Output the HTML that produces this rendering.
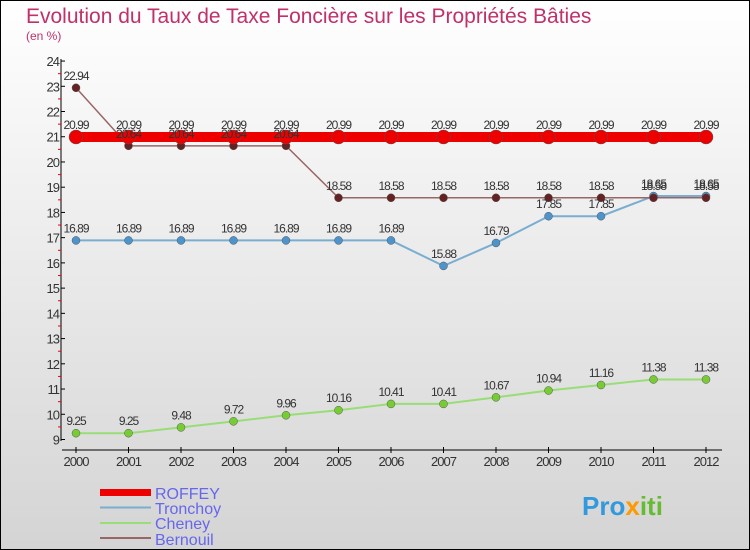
<!DOCTYPE html>
<html><head><meta charset="utf-8"><style>
body{margin:0}
#c{width:750px;height:550px;position:relative;overflow:hidden}
text{font-family:"Liberation Sans",sans-serif}
</style></head><body>
<div id="c">
<svg id="s" width="750" height="550" xmlns="http://www.w3.org/2000/svg">
<defs><linearGradient id="bg" x1="0" y1="0" x2="0" y2="1"><stop offset="0" stop-color="#ffffff"/><stop offset="1" stop-color="#d4d4d4"/></linearGradient></defs>
<rect x="0.5" y="0.5" width="749" height="549" fill="url(#bg)" stroke="#000"/>
<text x="26" y="23" font-size="21" fill="#c0306a">Evolution du Taux de Taxe Foncière sur les Propriétés Bâties</text>
<text x="26" y="40" font-size="12" fill="#c0306a">(en %)</text>
<g id="axes"></g><g id="series"></g><g id="labels"></g>
<g>
<rect x="100" y="489" width="51" height="7" fill="#ee0000"/>
<line x1="100" y1="507.5" x2="151" y2="507.5" stroke="#7aaed0" stroke-width="2"/>
<line x1="100" y1="523" x2="151" y2="523" stroke="#99dd77" stroke-width="2"/>
<line x1="100" y1="538" x2="151" y2="538" stroke="#996666" stroke-width="2"/>
<text x="155" y="499" font-size="16" fill="#6666ee">ROFFEY</text>
<text x="155" y="514" font-size="16" fill="#6666ee">Tronchoy</text>
<text x="155" y="529" font-size="16" fill="#6666ee">Cheney</text>
<text x="155" y="545" font-size="16" fill="#6666ee">Bernouil</text>
</g>
<text x="582" y="515" font-size="26" font-weight="bold" fill="#3399dd">Pro<tspan fill="#ff9900">x</tspan><tspan fill="#66bb33">iti</tspan></text>
</svg></div>
<script>
const years=[2000,2001,2002,2003,2004,2005,2006,2007,2008,2009,2010,2011,2012];
const roffey=[20.99,20.99,20.99,20.99,20.99,20.99,20.99,20.99,20.99,20.99,20.99,20.99,20.99];
const tronchoy=[16.89,16.89,16.89,16.89,16.89,16.89,16.89,15.88,16.79,17.85,17.85,18.65,18.65];
const cheney=[9.25,9.25,9.48,9.72,9.96,10.16,10.41,10.41,10.67,10.94,11.16,11.38,11.38];
const bernouil=[22.94,20.64,20.64,20.64,20.64,18.58,18.58,18.58,18.58,18.58,18.58,18.58,18.58];
const yTicks=[9,10,11,12,13,14,15,16,17,18,19,20,21,22,23,24];
const NS="http://www.w3.org/2000/svg";
const X=i=>76+i*52.5, Y=v=>439.5-(v-9)*25.23;
function mk(t,a,p){const e=document.createElementNS(NS,t);for(const k in a)e.setAttribute(k,a[k]);p.appendChild(e);return e;}
const ax=document.getElementById('axes'), sg=document.getElementById('series'), lg=document.getElementById('labels');
let l=mk('line',{x1:61,y1:59,x2:61,y2:441,stroke:'#000'},ax);


l=mk('line',{x1:62,y1:450,x2:722,y2:450,stroke:'#000'},ax);


yTicks.forEach(v=>{const y=Y(v);mk('line',{x1:61,y1:y,x2:65,y2:y,stroke:'#000'},ax);
 if(v<24)mk('line',{x1:58,y1:y-12.6,x2:61,y2:y-12.6,stroke:'#e00'},ax);
 const t=mk('text',{x:59,y:y+5,'font-size':13,'text-anchor':'end',fill:'#333','letter-spacing':'-1'},ax);t.textContent=v;
 
 });
years.forEach((yr,i)=>{mk('line',{x1:X(i),y1:447,x2:X(i),y2:453,stroke:'#000'},ax);
 const t=mk('text',{x:X(i),y:466,'font-size':13,'text-anchor':'middle',fill:'#333','letter-spacing':'-1'},ax);t.textContent=yr;
 
 });
function series(name,vals,col,w,r,mcol){const g=mk('g',{},sg);
 
 
 mk('polyline',{points:vals.map((v,i)=>X(i)+','+Y(v)).join(' '),fill:'none',stroke:col,'stroke-width':w},g);
 vals.forEach((v,i)=>{const c=mk('circle',{cx:X(i),cy:Y(v),r:r,fill:mcol,stroke:'#555','stroke-width':0.5},g);
  
  
  const t=mk('text',{x:X(i),y:Y(v)-8,'font-size':12,'text-anchor':'middle',fill:'#333','letter-spacing':'-1'},lg);t.textContent=v;
  
  });}
series('cheney',cheney,'#99dd77',2,4,'#77cc33');
series('tronchoy',tronchoy,'#7aaed0',2,4,'#4d94cc');
series('bernouil',bernouil,'#996666',1.5,4,'#662222');
series('roffey',roffey,'#ee0000',10,7,'#ee0000');
</script></body></html>
